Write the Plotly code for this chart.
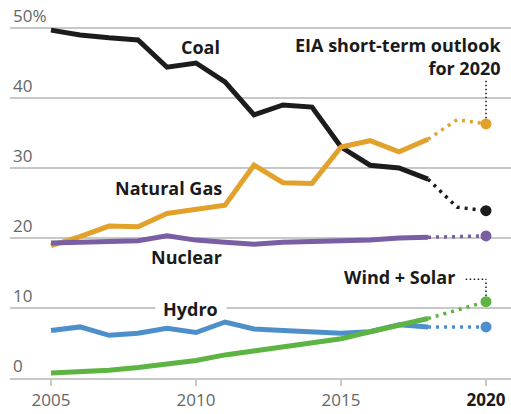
import plotly.graph_objects as go

years = list(range(2005, 2019))
coal = [49.7, 49.0, 48.6, 48.3, 44.4, 45.0, 42.3, 37.6, 39.0, 38.7, 33.0, 30.4, 30.0, 28.4]
gas = [18.9, 20.2, 21.7, 21.6, 23.5, 24.1, 24.7, 30.4, 27.9, 27.8, 33.0, 33.9, 32.3, 34.1]
nuclear = [19.3, 19.4, 19.4, 19.6, 20.3, 19.7, 19.4, 19.1, 19.4, 19.5, 19.5, 19.7, 20.0, 20.1]
hydro = [6.8, 7.3, 6.1, 6.4, 7.1, 6.5, 8.0, 7.0, 6.8, 6.6, 6.4, 6.6, 7.6, 7.3]
wind_solar = [0.7, 0.9, 1.1, 1.5, 2.0, 2.5, 3.3, 3.9, 4.5, 5.1, 5.6, 6.6, 7.6, 8.5]

f_years = [2018, 2019, 2020]
coal_f = [28.4, 24.4, 23.9]
gas_f = [34.1, 36.9, 36.3]
nuclear_f = [20.1, 20.2, 20.3]
hydro_f = [7.3, 7.3, 7.3]
wind_solar_f = [8.5, 9.7, 10.9]

tick_years = [2005, 2010, 2015, 2020]
tick_year_text = ["2005", "2010", "2015", "<span style='color:#1a1a1a'><b>2020</b></span>"]
y_ticks = [0, 10, 20, 30, 40, 50]
y_tick_text = ["0", "10", "20", "30", "40", "50%"]

colors = {
    "coal": "#1c1c1c",
    "gas": "#e2a12a",
    "nuclear": "#7a5ea3",
    "hydro": "#4d8fcb",
    "wind": "#5db443",
}

series = [
    ("coal", coal, coal_f),
    ("gas", gas, gas_f),
    ("nuclear", nuclear, nuclear_f),
    ("hydro", hydro, hydro_f),
    ("wind", wind_solar, wind_solar_f),
]

fig = go.Figure()
for key, vals, fvals in series:
    c = colors[key]
    fig.add_trace(go.Scatter(
        x=f_years, y=fvals, mode="lines", line=dict(color=c, width=3.5, dash="3px,5px"),
        hoverinfo="skip", showlegend=False))
    fig.add_trace(go.Scatter(
        x=[f_years[-1]], y=[fvals[-1]], mode="markers",
        marker=dict(color=c, size=11), hoverinfo="skip", showlegend=False, cliponaxis=False))
    fig.add_trace(go.Scatter(
        x=years, y=vals, mode="lines", line=dict(color=c, width=5),
        hoverinfo="skip", showlegend=False))

label_font = dict(family="Open Sans", size=18, color="#1a1a1a", weight="bold")

annos = [
    dict(text="Coal", x=2010.17, y=47.3, xanchor="center"),
    dict(text="EIA short-term outlook<br>for 2020", x=2020.6, y=45.9, xanchor="right", align="right"),
    dict(text="Natural Gas", x=2009.05, y=27.1, xanchor="center"),
    dict(text="Nuclear", x=2009.66, y=17.3, xanchor="center"),
    dict(text="Hydro", x=2009.81, y=9.86, xanchor="center"),
    dict(text="Wind + Solar", x=2017.0, y=14.4, xanchor="center"),
]
for a in annos:
    fig.add_annotation(showarrow=False, xref="x", yref="y", yanchor="middle",
                       font=label_font, **a)

# white gap in the gridline behind the "Hydro" label
fig.add_shape(type="rect", xref="x", yref="y", x0=2008.6, x1=2011.05, y0=9.5, y1=10.5,
              fillcolor="white", line=dict(width=0), layer="between")

# dotted connectors
dot_line = dict(color="#1a1a1a", width=1.5, dash="1.5px,2.5px")
fig.add_shape(type="line", xref="x", yref="y", x0=2020, x1=2020,
              y0=gas_f[-1] + 0.8, y1=42.6, line=dot_line)
fig.add_shape(type="line", xref="x", yref="y", x0=2019.3, x1=2020,
              y0=14.1, y1=14.1, line=dot_line)
fig.add_shape(type="line", xref="x", yref="y", x0=2020, x1=2020,
              y0=wind_solar_f[-1] + 0.8, y1=14.1, line=dot_line)

fig.update_layout(
    width=511, height=414,
    margin=dict(l=10, r=0, t=0, b=36),
    paper_bgcolor="white", plot_bgcolor="white",
    showlegend=False,
    font=dict(family="Open Sans", size=17, color="#666666"),
    xaxis=dict(range=[2003.586, 2020.862], tickvals=tick_years, ticktext=tick_year_text,
               showgrid=False, zeroline=False, showline=True, linecolor="#c8c8c8", linewidth=1.5,
               ticks="outside", ticklen=6, tickwidth=1.5, tickcolor="#c8c8c8",
               tickfont=dict(family="Open Sans", size=17, color="#666666")),
    yaxis=dict(range=[0, 54], tickvals=y_ticks, ticktext=y_tick_text,
               showgrid=True, gridcolor="#c8c8c8", gridwidth=1.5, zeroline=False,
               showline=False, ticks="", ticklabelposition="inside top",
               tickfont=dict(family="Open Sans", size=17, color="#666666")),
)

fig.write_html("out.html", config={"displayModeBar": False})

with open("out.html", "r", encoding="utf-8") as fh:
    html = fh.read()
html = html.replace("<head>", "<head><style>html,body{margin:0;padding:0;}</style>", 1)
with open("out.html", "w", encoding="utf-8") as fh:
    fh.write(html)
